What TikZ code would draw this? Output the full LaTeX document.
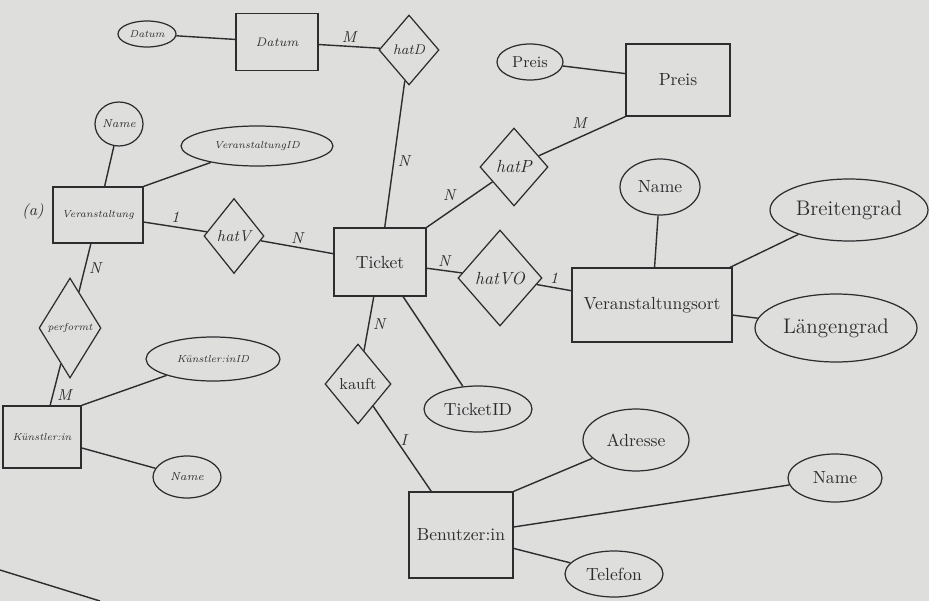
\documentclass[tikz,border=0pt]{standalone}
\usetikzlibrary{shapes.geometric}
\definecolor{paper}{RGB}{222, 222, 220}
\definecolor{ink}{RGB}{45, 45, 48}
\tikzset{
	entity/.style={rectangle, draw=ink, line width=0.7pt, align=center, inner sep=1pt, text=ink},
	attr/.style={ellipse, draw=ink, line width=0.7pt, align=center, inner sep=0pt, text=ink},
	rel/.style={diamond, draw=ink, line width=0.7pt, align=center, inner sep=0pt, text=ink},
	card/.style={font=\small\itshape, text=ink, inner sep=2pt},
	link/.style={draw=ink, line width=0.8pt},
	smalltxt/.style={font=\fontsize{5.8}{7}\selectfont\itshape},
	bigtxt/.style={font=\normalsize},
}

\begin{document}
\begin{tikzpicture}[x=0.02cm, y=-0.02cm]
		\fill[paper] (0,0) rectangle (929,601);
		\useasboundingbox (0,0) rectangle (929,601);
		% left part
		\node[attr, smalltxt, minimum width=1.16cm, minimum height=0.52cm] (datumA) at (147,34) {Datum};
		\node[entity, smalltxt, font=\scriptsize\itshape, minimum width=1.64cm, minimum height=1.14cm] (datum) at (277,42) {Datum};
		\node[rel, font=\footnotesize\itshape, minimum width=1.2cm, minimum height=1.4cm] (hatD) at (409,50) {hatD};
		\node[attr, smalltxt, font=\fontsize{6.5}{8}\selectfont\itshape, minimum width=0.96cm, minimum height=0.88cm] (vname) at (119,124) {Name};
		\node[attr, smalltxt, minimum width=3.04cm, minimum height=0.8cm] (vid) at (257,146) {VeranstaltungID};
		\node[entity, smalltxt, minimum width=1.8cm, minimum height=1.12cm] (veranst) at (98,215) {Veranstaltung};
		\node[font=\small\itshape, text=ink] (alabel) at (33,212) {(a)};
		\node[rel, font=\small\itshape, minimum width=1.2cm, minimum height=1.5cm] (hatV) at (234,236) {hatV};
		\node[rel, smalltxt, minimum width=1.24cm, minimum height=2.0cm] (performt) at (70,328) {performt};
		\node[entity, smalltxt, minimum width=1.56cm, minimum height=1.24cm] (kuenst) at (42,437) {Künstler:in};
		\node[attr, smalltxt, minimum width=2.68cm, minimum height=0.88cm] (kid) at (213,359) {Künstler:inID};
		\node[attr, smalltxt, font=\fontsize{6.5}{8}\selectfont\itshape, minimum width=1.36cm, minimum height=0.84cm] (kname) at (187,477) {Name};
		% ticket
		\node[entity, bigtxt, minimum width=1.84cm, minimum height=1.36cm] (ticket) at (380,262) {Ticket};
		\node[rel, font=\small, minimum width=1.32cm, minimum height=1.6cm] (kauft) at (358,384) {kauft};
		\node[attr, bigtxt, minimum width=2.16cm, minimum height=0.92cm] (tid) at (478,409) {TicketID};
		% right part
		\node[attr, font=\small, minimum width=1.32cm, minimum height=0.72cm] (preisA) at (530,62) {Preis};
		\node[entity, bigtxt, minimum width=2.08cm, minimum height=1.44cm] (preis) at (678,80) {Preis};
		\node[rel, font=\normalsize\itshape, minimum width=1.36cm, minimum height=1.56cm] (hatP) at (514,167) {hatP};
		\node[rel, font=\normalsize\itshape, minimum width=1.68cm, minimum height=1.92cm] (hatVO) at (500,278) {hatVO};
		\node[attr, bigtxt, minimum width=1.6cm, minimum height=1.12cm] (oname) at (660,187) {Name};
		\node[attr, font=\large, minimum width=3.16cm, minimum height=1.24cm] (breit) at (849,210) {Breitengrad};
		\node[entity, bigtxt, minimum width=3.2cm, minimum height=1.48cm] (ort) at (652,305) {Veranstaltungsort};
		\node[attr, font=\large, minimum width=3.24cm, minimum height=1.36cm] (laenge) at (836,328) {Längengrad};
		\node[entity, bigtxt, minimum width=2.08cm, minimum height=1.72cm] (benutzer) at (461,535) {Benutzer:in};
		\node[attr, bigtxt, minimum width=2.12cm, minimum height=1.24cm] (adresse) at (636,440) {Adresse};
		\node[attr, bigtxt, minimum width=1.88cm, minimum height=0.96cm] (bname) at (835,478) {Name};
		\node[attr, bigtxt, minimum width=1.96cm, minimum height=0.92cm] (telefon) at (614,574) {Telefon};
		% relationships
		\draw[link] (datumA) -- (datum);
		\draw[link] (datum) -- node[card, above] {M} (hatD);
		\draw[link] (hatD) -- node[card, right, pos=0.55] {N} (ticket);
		\draw[link] (preisA) -- (preis);
		\draw[link] (hatP) -- node[card, above left, pos=0.6] {M} (preis.south west);
		\draw[link] (ticket.north east) -- node[card, above left] {N} (hatP);
		\draw[link] (veranst) -- node[card, above] {1} (hatV);
		\draw[link] (hatV) -- node[card, above] {N} (ticket);
		\draw[link] (ticket) -- node[card, above] {N} (hatVO);
		\draw[link] (hatVO) -- node[card, above] {1} (ort);
		\draw[link] (veranst) -- node[card, right] {N} (performt);
		\draw[link] (performt) -- node[card, right, pos=0.75] {M} (kuenst);
		\draw[link] (ticket) -- node[card, right] {N} (kauft);
		\draw[link] (kauft) -- node[card, right, pos=0.4] {I} (benutzer);
		% attributes
		\draw[link] (vname) -- (veranst);
		\draw[link] (vid) -- (veranst.north east);
		\draw[link] (kid) -- (kuenst.north east);
		\draw[link] (kuenst) -- (kname);
		\draw[link] (ticket) -- (tid);
		\draw[link] (oname) -- (ort);
		\draw[link] (breit) -- (ort);
		\draw[link] (ort) -- (laenge);
		\draw[link] (benutzer.north east) -- (adresse);
		\draw[link] (benutzer) -- (bname);
		\draw[link] (benutzer) -- (telefon);
		\draw[link] (0,570) -- (100,601);
	\end{tikzpicture}
\end{document}
